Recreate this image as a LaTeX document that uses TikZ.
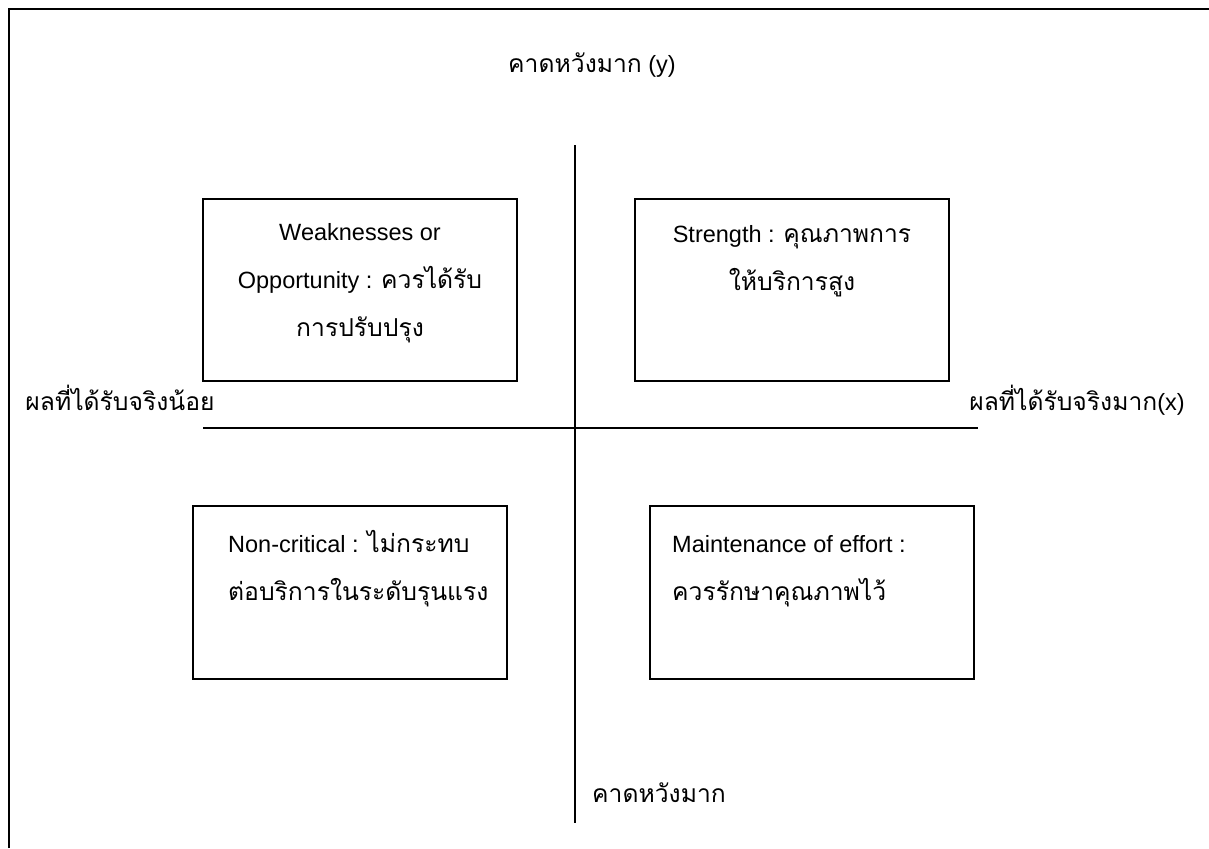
\documentclass[tikz,border=0pt]{standalone}
\usepackage{fontspec}
\setmainfont{Liberation Sans}
\newfontfamily\thai[Script=Thai,Scale=1.05]{Loma}
\begin{document}
\begin{tikzpicture}[x=1pt,y=-1pt,
  quad/.style={draw, line width=1.5pt, inner sep=0pt, minimum width=314pt},
  txt/.style={align=center, anchor=base, inner sep=0pt, font=\fontsize{23.5}{48}\selectfont},
  ltxt/.style={align=left, anchor=base west, inner sep=0pt, font=\fontsize{23.5}{48}\selectfont},
  lbl/.style={anchor=base, inner sep=0pt, font=\fontsize{23.5}{28}\selectfont},
  axis/.style={line width=1.5pt}]
\useasboundingbox (0,0) rectangle (1209,848);
% frame
\coordinate (fa) at (9,848);
\coordinate (fb) at (9,9);
\coordinate (fc) at (1209,9);
\draw[axis] (fa) -- (fb) -- (fc);
% axes
\coordinate (vt) at (575,145);
\coordinate (vb) at (575,823);
\coordinate (hl) at (203,428);
\coordinate (hr) at (978,428);
\draw[axis] (vt) -- (vb);
\draw[axis] (hl) -- (hr);
% boxes
\node[quad, minimum height=182pt] (tl) at (360,290) {};
\node[quad, minimum height=182pt] (tr) at (792,290) {};
\node[quad, minimum height=173pt] (bl) at (350,592.5) {};
\node[quad, minimum height=173pt, minimum width=324pt] (br) at (812,592.5) {};
% box texts (base = last line)
\node[txt] (tlt) at (360,336) {Weaknesses or\\Opportunity : {\thai ควรได้รับ}\\{\thai การปรับปรุง}};
\node[txt] (trt) at (792,290) {Strength : {\thai คุณภาพการ}\\{\thai ให้บริการสูง}};
\node[ltxt] (blt) at (228,600) {Non-critical : {\thai ไม่กระทบ}\\{\thai ต่อบริการในระดับรุนแรง}};
\node[ltxt] (brt) at (672,600) {Maintenance of effort :\\{\thai ควรรักษาคุณภาพไว้}};
% axis labels
\node[lbl] (ytop) at (592,73) {{\thai คาดหวังมาก} (y)};
\node[lbl] (ybot) at (659,802) {{\thai คาดหวังมาก}};
\node[lbl] (xl) at (120,410) {{\thai ผลที่ได้รับจริงน้อย}};
\node[lbl] (xr) at (1077,410) {{\thai ผลที่ได้รับจริงมาก}(x)};
\end{tikzpicture}
\end{document}
